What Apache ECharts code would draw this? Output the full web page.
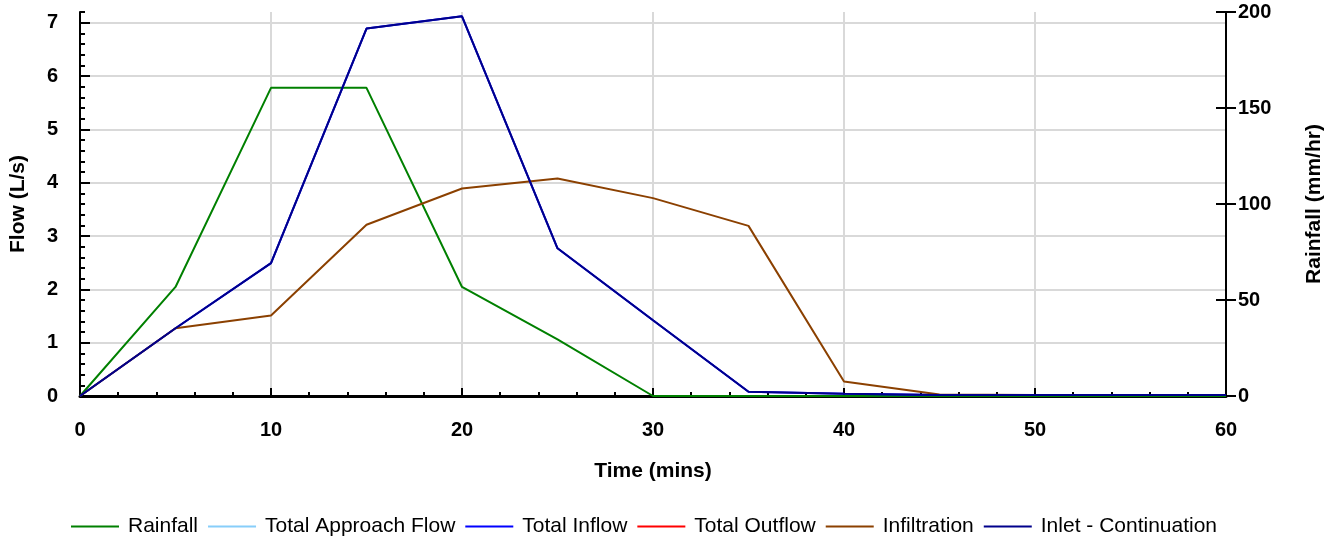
<!DOCTYPE html>
<html>
<head>
<meta charset="utf-8">
<script src="https://cdn.jsdelivr.net/npm/echarts@6/dist/echarts.min.js"></script>
<style>
html,body{margin:0;padding:0;background:#fff;}
#chart{width:1338px;height:540px;}
</style>
</head>
<body>
<div id="chart"></div>
<script>
// ---- data ----
var times = [0, 5, 10, 15, 20, 25, 30, 35, 40, 45, 50, 55, 60];
var rainfall = [0, 56.8, 160.5, 160.5, 56.8, 29.5, 0, 0, 0, 0, 0, 0, 0];          // mm/hr (right axis)
var totalApproachFlow = [];                                                        // not visible
var totalInflow = [0, 1.27, 2.49, 6.89, 7.12, 2.77, 1.42, 0.08, 0.04, 0.02, 0.02, 0.02, 0.02];
var totalOutflow = [];                                                             // not visible
var infiltration = [0, 1.27, 1.51, 3.21, 3.89, 4.08, 3.71, 3.19, 0.27, 0.03, 0.02, 0.02, 0.02];
var inletContinuation = [0, 1.27, 2.49, 6.89, 7.12, 2.77, 1.42, 0.08, 0.04, 0.02, 0.02, 0.02, 0.02];
var flowTicks = [0, 1, 2, 3, 4, 5, 6, 7];
var seriesNames = ['Rainfall', 'Total Approach Flow', 'Total Inflow', 'Total Outflow', 'Infiltration', 'Inlet - Continuation'];
var seriesColors = ['#008000', '#87cefa', '#0000ff', '#ff0000', '#8b4000', '#00008b'];

function pairs(vals) {
  return vals.map(function (v, i) { return [times[i], v]; });
}

var FONT = '"Liberation Sans", Arial, sans-serif';
var chart = echarts.init(document.getElementById('chart'), null, {renderer: 'canvas'});

function lineSeries(idx, vals, yIdx) {
  return {
    name: seriesNames[idx],
    type: 'line',
    yAxisIndex: yIdx,
    data: pairs(vals),
    symbol: 'none',
    lineStyle: {color: seriesColors[idx], width: 2},
    itemStyle: {color: seriesColors[idx]},
    animation: false
  };
}

var labelStyle = {fontFamily: FONT, fontWeight: 'bold', fontSize: 20, color: '#000'};
var nameStyle = {fontFamily: FONT, fontWeight: 'bold', fontSize: 21, color: '#000'};

var option = {
  animation: false,
  textStyle: {fontFamily: FONT},
  grid: {left: 80, right: 112, top: 12, bottom: 144, containLabel: false},
  legend: {
    top: 511,
    left: 66,
    icon: 'rect',
    itemWidth: 48,
    itemHeight: 2,
    itemGap: 10,
    textStyle: {fontFamily: FONT, fontSize: 21, color: '#000', padding: [0, 0, 0, 4]},
    data: seriesNames
  },
  xAxis: {
    type: 'value',
    min: 0, max: 60, interval: 10,
    name: 'Time (mins)',
    nameLocation: 'middle',
    nameGap: 65,
    nameTextStyle: nameStyle,
    axisLine: {show: true, lineStyle: {color: '#000', width: 3}},
    axisTick: {show: true, inside: true, length: 8, lineStyle: {color: '#000', width: 2}},
    minorTick: {show: true, splitNumber: 5, length: 4, lineStyle: {color: '#000', width: 2}},
    axisLabel: Object.assign({margin: 24}, labelStyle),
    splitLine: {show: true, lineStyle: {color: '#d9d9d9', width: 2}}
  },
  yAxis: [
    {
      type: 'value', position: 'left',
      min: 0, max: 7.2, interval: 1,
      name: 'Flow (L/s)',
      nameLocation: 'middle',
      nameGap: 51,
      nameTextStyle: nameStyle,
      axisLine: {show: true, onZero: false, lineStyle: {color: '#000', width: 2}},
      axisTick: {show: true, inside: true, length: 10, customValues: flowTicks, lineStyle: {color: '#000', width: 2}},
      axisLabel: Object.assign({margin: 22, customValues: flowTicks}, labelStyle),
      splitLine: {show: true, lineStyle: {color: '#d9d9d9', width: 2}}
    },
    {
      type: 'value', position: 'right',
      min: 0, max: 200, interval: 50,
      name: 'Rainfall (mm/hr)',
      nameLocation: 'middle',
      nameGap: 78,
      nameTextStyle: nameStyle,
      axisLine: {show: true, onZero: false, lineStyle: {color: '#000', width: 2}},
      axisTick: {show: true, inside: false, length: 10, lineStyle: {color: '#000', width: 2}},
      axisLabel: Object.assign({margin: 12}, labelStyle),
      splitLine: {show: false}
    },
    {
      // minor ticks of the flow axis
      type: 'value', position: 'left',
      min: 0, max: 7.2, interval: 0.2,
      axisLine: {show: false, onZero: false},
      axisTick: {show: true, inside: true, length: 5, lineStyle: {color: '#000', width: 2}},
      axisLabel: {show: false},
      splitLine: {show: false}
    },
    {
      // inner half of the crossing rainfall ticks
      type: 'value', position: 'right',
      min: 0, max: 200, interval: 50,
      axisLine: {show: false, onZero: false},
      axisTick: {show: true, inside: true, length: 10, lineStyle: {color: '#000', width: 2}},
      axisLabel: {show: false},
      splitLine: {show: false}
    }
  ],
  series: [
    lineSeries(0, rainfall, 1),
    lineSeries(1, totalApproachFlow, 0),
    lineSeries(2, totalInflow, 0),
    lineSeries(3, totalOutflow, 0),
    lineSeries(4, infiltration, 0),
    lineSeries(5, inletContinuation, 0)
  ]
};
chart.setOption(option);
</script>
</body>
</html>
